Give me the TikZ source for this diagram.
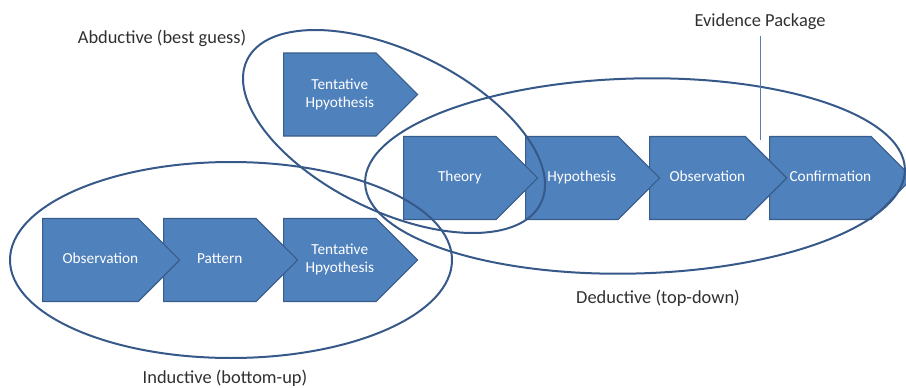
\documentclass[tikz,border=0pt]{standalone}
\usepackage{fontspec}
\setmainfont{Carlito}
\usepackage{tikz}
\usetikzlibrary{shapes.symbols}
\usetikzlibrary{shapes.geometric}

\definecolor{boxblue}{HTML}{4F81BD}
\definecolor{edgeblue}{HTML}{385D8A}
\definecolor{ringblue}{HTML}{36598A}
\definecolor{pinblue}{HTML}{5A7FAF}
\definecolor{labelgray}{HTML}{303030}

% text of a chevron, pushed a little towards its tip
\newcommand{\chevtext}[1]{\hspace*{20pt}\begin{tabular}{@{}c@{}}#1\end{tabular}}

\tikzset{
    chev/.style={signal, signal to=east, signal pointer angle=90,
        draw=edgeblue, line width=1.1pt, fill=boxblue, text=white,
        minimum width=134pt, minimum height=83pt, inner sep=0pt,
        anchor=west,
        font=\fontsize{15.3}{18}\selectfont},
    ring/.style={ellipse, draw=ringblue, line width=2pt, inner sep=0pt},
    tag/.style={text=labelgray, inner sep=3pt,
        font=\fontsize{18.4}{22}\selectfont}
}

\begin{document}
\begin{tikzpicture}[x=1pt,y=-1pt]
            \useasboundingbox (0,0) rectangle (906,388);
            % deductive row, drawn right to left so each tip lies on the next box
            \foreach \name/\x/\txt in {conf/769/Confirmation, obsd/649/Observation, hyp/525/Hypothesis, theory/403/Theory} {
                \node[chev] (\name) at (\x,178) {\chevtext{\txt}};
            }
            % inductive row
            \foreach \name/\x/\txt in {tenti/283/{Tentative\\Hpyothesis}, pat/163/Pattern, obsi/42/Observation} {
                \node[chev] (\name) at (\x,260) {\chevtext{\txt}};
            }
            \node[chev] (tenta) at (283,94.5) {\chevtext{Tentative\\Hpyothesis}};
            % the three groups
            \node[ring, minimum width=326.8pt, minimum height=160pt, rotate=-26] (abd) at (394,131.5) {};
            \node[ring, minimum width=540pt, minimum height=195pt, rotate=1.5] (ded) at (635,176) {};
            \node[ring, minimum width=442pt, minimum height=196pt] (ind) at (231,260) {};
            % labels
            \node[tag] (abdlbl) at (162,38) {Abductive (best guess)};
            \node[tag] (dedlbl) at (658,298) {Deductive (top-down)};
            \node[tag] (indlbl) at (225,378) {Inductive (bottom-up)};
            \node[tag] (evid) at (760,21.5) {Evidence Package};
            \coordinate (evfoot) at (760,140);
            \draw[pinblue, line width=0.9pt, shorten <=3pt] (evid.south) -- (evfoot);
        \end{tikzpicture}
\end{document}
